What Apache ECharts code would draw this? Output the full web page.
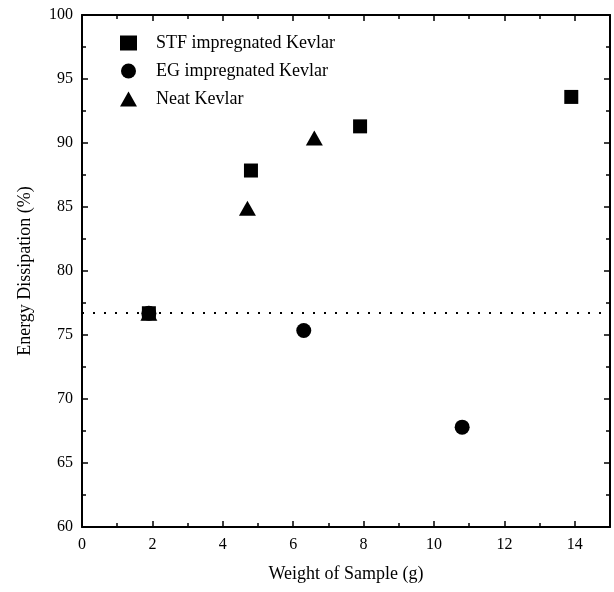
<!DOCTYPE html>
<html>
<head>
<meta charset="utf-8">
<script src="https://cdn.jsdelivr.net/npm/echarts@6/dist/echarts.min.js"></script>
<style>
    html, body {margin: 0; padding: 0; background: #fff;}
    #chartDiv {width: 614px; height: 592px;}
</style>
</head>
<body>
<div id="chartDiv"></div>
<script>
// 数据
var stfX = [1.9, 4.8, 7.9, 13.9];
var stfY = [76.7, 87.85, 91.3, 93.6];
var egX = [1.9, 6.3, 10.8];
var egY = [76.7, 75.35, 67.8];
var neatX = [1.9, 4.7, 6.6];
var neatY = [76.7, 84.9, 90.4];
var refLevel = 76.7;
var seriesNames = ['STF impregnated Kevlar', 'EG impregnated Kevlar', 'Neat Kevlar'];

var fontName = 'Liberation Serif';

function pairs(xs, ys) {
    var out = [];
    for (var i = 0; i < xs.length; i++) {
        out.push([xs[i], ys[i]]);
    }
    return out;
}

// 坐标轴（上/右为镜像，只画刻度）
function xAxisCfg(pos, showLabel) {
    return {
        type: 'value',
        position: pos,
        min: 0,
        max: 15,
        interval: 2,
        name: showLabel ? 'Weight of Sample (g)' : '',
        nameLocation: 'middle',
        nameGap: 38,
        nameTextStyle: {fontFamily: fontName, fontSize: 18, color: '#000'},
        axisLine: {show: true, onZero: false, lineStyle: {color: '#000', width: 2}},
        axisTick: {show: true, inside: true, length: 6, lineStyle: {color: '#000', width: 1.5}},
        minorTick: {show: true, splitNumber: 2, length: 4, lineStyle: {color: '#000', width: 1.5}},
        axisLabel: {show: showLabel, fontFamily: fontName, fontSize: 16, color: '#000', margin: 10,
            showMaxLabel: false},
        splitLine: {show: false},
        minorSplitLine: {show: false}
    };
}

function yAxisCfg(pos, showLabel) {
    return {
        type: 'value',
        position: pos,
        min: 60,
        max: 100,
        interval: 5,
        name: showLabel ? 'Energy Dissipation (%)' : '',
        nameLocation: 'middle',
        nameGap: 48,
        nameTextStyle: {fontFamily: fontName, fontSize: 18, color: '#000'},
        axisLine: {show: true, onZero: false, lineStyle: {color: '#000', width: 2}},
        axisTick: {show: true, inside: true, length: 6, lineStyle: {color: '#000', width: 1.5}},
        minorTick: {show: true, splitNumber: 2, length: 4, lineStyle: {color: '#000', width: 1.5}},
        axisLabel: {show: showLabel, fontFamily: fontName, fontSize: 16, color: '#000', margin: 9},
        splitLine: {show: false},
        minorSplitLine: {show: false}
    };
}

var option = {
    backgroundColor: '#fff',
    animation: false,
    grid: {left: 82, right: 4, top: 15, bottom: 65},
    legend: {
        orient: 'vertical',
        left: 115,
        top: 29,
        itemWidth: 17,
        itemHeight: 15,
        itemGap: 10,
        textStyle: {fontFamily: fontName, fontSize: 18, color: '#000', padding: [0, 0, 0, 14]},
        data: seriesNames
    },
    xAxis: [xAxisCfg('bottom', true), xAxisCfg('top', false)],
    yAxis: [yAxisCfg('left', true), yAxisCfg('right', false)],
    series: [
        {
            name: seriesNames[1],
            type: 'scatter',
            symbol: 'circle',
            symbolSize: 15,
            itemStyle: {color: '#000', opacity: 1},
            data: pairs(egX, egY),
            markLine: {
                silent: true,
                symbol: 'none',
                label: {show: false},
                lineStyle: {color: '#000', type: [2, 9], width: 2},
                data: [{yAxis: refLevel}]
            }
        },
        {
            name: seriesNames[2],
            type: 'scatter',
            symbol: 'triangle',
            symbolSize: [17, 15],
            itemStyle: {color: '#000', opacity: 1},
            data: pairs(neatX, neatY)
        },
        {
            name: seriesNames[0],
            type: 'scatter',
            symbol: 'rect',
            symbolSize: 14,
            itemStyle: {color: '#000', opacity: 1},
            data: pairs(stfX, stfY)
        }
    ]
};

var mychart = echarts.init(document.getElementById('chartDiv'));
mychart.setOption(option);
</script>
</body>
</html>
